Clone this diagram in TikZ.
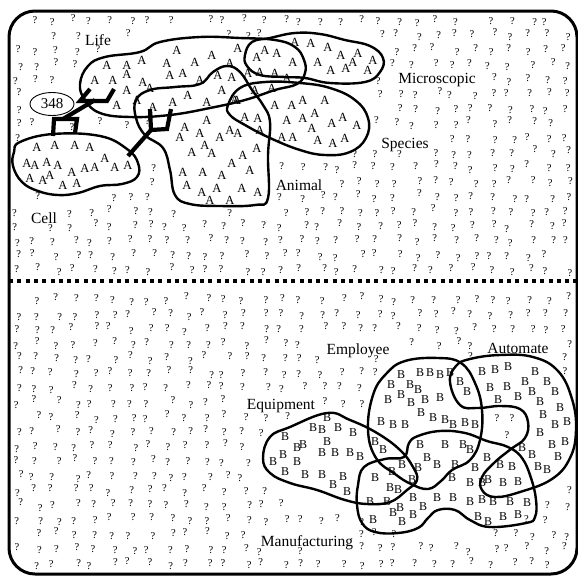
\documentclass[tikz,border=0pt]{standalone}
\usepackage{fontspec}
\setmainfont{Liberation Serif}
\usetikzlibrary{shapes.geometric}
\tikzset{
 blob/.style={line width=2.4pt, line join=round},
 treeline/.style={line width=4.2pt, line join=miter},
 lab/.style={font=\fontsize{15.5}{16}\selectfont, inner sep=0pt, anchor=base},
 la/.style={font=\fontsize{12.5}{13}\selectfont, inner sep=0pt},
 lb/.style={font=\fontsize{12}{13}\selectfont, inner sep=0pt},
 qm/.style={font=\fontsize{10.5}{11}\selectfont, inner sep=0pt},
}
\begin{document}
\begin{tikzpicture}[x=1pt,y=-1pt]
\useasboundingbox (0,0) rectangle (578,576);
\fill[white] (0,0) rectangle (578,576);
\draw[line width=3pt, rounded corners=26pt] (9,11) rectangle (577,574);
\coordinate (dl) at (9,281);
\coordinate (dr) at (577,281);
\draw[line width=4pt, dash pattern=on 4pt off 4.3pt] (dl) -- (dr);

% scattered question marks
\pgfmathsetseed{7}
\foreach \i in {0,...,29}{
 \foreach \j in {0,...,37}{
  \pgfmathsetmacro\px{17+\i*19+5*rand}
  \pgfmathsetmacro\py{20+\j*14.7+3*rand}
  \pgfmathtruncatemacro\bad{(\px<14)+(\px>571)+(\py<18)+(\py>567)
   +(abs(\py-281)<8)
   +(\px<32)*(\py<34)+(\px>554)*(\py<34)+(\px<32)*(\py>552)+(\px>554)*(\py>552)
   +(veclen((\px-77)/70,(\py-165)/37)<1)
   +(veclen((\px-192)/120,(\py-78)/46)<1)
   +(abs(\px-220)<56)*(abs(\py-150)<63)
   +(veclen((\px-298)/78,(\py-119)/44)<1)
   +(veclen((\px-314)/76,(\py-58)/32)<1)
   +(abs(\px-98)<18)*(abs(\py-40)<9)
   +(abs(\px-437)<44)*(abs(\py-78)<9)
   +(abs(\px-405)<29)*(abs(\py-143)<9)
   +(abs(\px-299)<28)*(abs(\py-185)<9)
   +(abs(\px-44)<18)*(abs(\py-218)<9)
   +(veclen((\px-52)/28,(\py-104)/16)<1)
   +(abs(\px-84)<34)*(abs(\py-111)<26)
   +(abs(\px-139)<14)*(abs(\py-143)<15)
   +(veclen((\px-340)/84,(\py-460)/52)<1)
   +(veclen((\px-425)/64,(\py-423)/72)<1)
   +(veclen((\px-514)/70,(\py-427)/78)<1)
   +(veclen((\px-447)/97,(\py-483)/57)<1)
   +(abs(\px-281)<40)*(abs(\py-404)<9)
   +(abs(\px-358)<38)*(abs(\py-349)<9)
   +(abs(\px-518)<36)*(abs(\py-348)<9)
   +(abs(\px-307)<52)*(abs(\py-541)<9)}
  \ifnum\bad=0 \node[qm] (q\i-\j) at (\px,\py) {?};\fi
 }
}
\foreach \p [count=\k] in {(72,127),(100,121),(497,418),(512,418),(507,435)}
  \node[qm] (qx\k) at \p {?};

% A blobs
\draw[blob] plot[smooth cycle, tension=0.7] coordinates {(20,142) (53,134) (100,136) (127,149) (138,163) (137,177) (122,184) (100,186) (78,193) (58,195) (38,191) (22,182) (13,166) (14,152)};
\draw[blob] plot[smooth cycle, tension=0.7] coordinates {(80,84) (88,66) (105,57) (140,52) (160,42) (200,37) (240,38) (275,40) (295,47) (304,60) (305,73) (297,84) (275,90) (245,100) (210,108) (170,115) (130,117) (100,113) (85,100)};
\draw[blob] plot[smooth cycle, tension=0.7] coordinates {(136,100) (150,90) (175,87) (200,84) (213,72) (227,66) (240,72) (252,90) (263,105) (270,122) (268,155) (268,198) (255,205) (220,206) (190,204) (175,195) (170,170) (163,148) (145,135) (136,118)};
\draw[blob] plot[smooth cycle, tension=0.7] coordinates {(228,105) (240,88) (265,82) (300,83) (330,88) (355,100) (368,118) (366,138) (350,152) (325,155) (300,150) (270,138) (245,125) (230,115)};
\draw[blob] plot[smooth cycle, tension=0.7] coordinates {(245,55) (252,42) (270,38) (295,33) (320,34) (345,40) (370,46) (383,58) (380,72) (365,82) (330,83) (305,78) (285,77) (260,75) (247,66)};

% B blobs
\draw[blob] plot[smooth cycle, tension=0.7] coordinates {(263,458) (270,437) (290,427) (327,413) (350,420) (377,433) (400,450) (413,467) (417,480) (407,490) (390,502) (367,504) (345,500) (317,490) (290,483) (270,473)};
\draw[blob] plot[smooth cycle, tension=0.7] coordinates {(368,430) (373,395) (386,374) (405,361) (438,358) (461,363) (475,383) (482,410) (480,440) (470,460) (452,470) (441,481) (428,489) (411,484) (395,474) (376,458)};
\draw[blob] plot[smooth cycle, tension=0.7] coordinates {(450,382) (456,366) (470,359) (500,355) (533,357) (558,371) (572,399) (576,430) (570,458) (552,479) (520,492) (495,497) (482,490) (482,477) (495,462) (511,449) (525,438) (528,422) (520,409) (500,406) (478,408) (460,405)};
\draw[blob] plot[smooth cycle, tension=0.7] coordinates {(358,485) (364,467) (385,459) (404,457) (409,443) (418,436) (440,431) (465,433) (487,441) (508,447) (522,458) (531,478) (536,500) (535,517) (526,523) (490,527) (470,520) (455,510) (438,510) (428,518) (418,528) (398,533) (375,532) (362,523) (357,505)};

% A letters
\foreach \p [count=\k] in {(107,65),(127,65),(142,60),(95,80),(113,80),(127,74),(143,82),(127,90),(150,88),(117,105),(137,100),(153,107),
 (177,50),(195,62),(212,55),(238,48),(167,63),(170,75),(183,73),(200,80),(218,75),(230,63),(232,77),(248,73),(222,90),(188,95),(207,102),(173,102),(235,100),
 (207,120),(185,127),(200,133),(180,137),(220,137),(230,130),(238,133),(205,145),(212,153),(192,152),(243,155),(257,148),(232,163),(250,170),(183,172),(203,172),(222,175),(187,185),(202,192),(217,188),(242,188),(258,192),(210,200),(230,200),
 (257,57),(265,50),(277,53),(260,72),(275,73),(287,78),(293,62),(295,42),(311,43),(328,47),(318,62),(331,70),(341,55),(346,68),(353,62),(358,53),(368,70),(373,60),
 (255,90),(272,88),(237,100),(245,117),(258,118),(260,130),(275,105),(292,105),(303,100),(325,100),(287,120),(303,118),(315,113),(312,128),(332,123),(343,117),(357,125),(282,137),(293,137),(318,140),(333,143),(345,138),
 (37,147),(55,145),(75,145),(90,147),(27,163),(35,165),(47,162),(58,165),(72,172),(85,168),(95,167),(105,158),(115,167),(128,165),(30,178),(43,180),(50,175),(63,185),(77,183)}
 \node[la] (a\k) at \p {A};

% B letters
\foreach \p [count=\k] in {(327,418),(313,428),(322,430),(338,428),(353,433),(285,437),(303,445),(297,448),(327,442),(283,455),(273,462),(297,462),(322,453),(335,453),(350,453),(360,457),(285,472),(305,475),(322,475),(343,477),(333,485),(347,492),
 (375,442),(383,450),(375,478),(390,488),(398,490),(392,472),(402,465),(412,480),(370,502),(387,502),(400,508),(413,498),(423,507),(373,520),(393,513),(402,522),(413,515),
 (401,375),(420,373),(430,373),(440,375),(450,373),(391,385),(410,385),(418,390),(401,395),(388,400),(411,403),(425,400),(440,398),(421,413),(433,418),(445,420),(453,425),(465,423),(475,425),(381,422),(393,425),(405,425),
 (460,382),(467,392),(482,372),(495,370),(508,367),(535,372),(490,388),(507,387),(525,382),(547,382),(518,397),(532,392),(555,392),(498,400),(540,402),(560,408),(543,415),(555,425),(567,422),(540,433),(552,445),(565,442),(522,448),(532,455),(558,457),(538,467),(547,470),
 (420,445),(445,445),(463,445),(470,450),(427,458),(437,465),(455,465),(487,458),(475,468),(500,465),(512,467),(418,468),(452,478),(470,483),(482,483),(488,480),(503,483),(518,482),(437,498),(453,498),(470,502),(482,500),(493,502),(510,502),(527,503),(478,517),(488,522),(503,517),(518,515)}
 \node[lb] (b\k) at \p {B};

% trees
\draw[treeline] (53,136) -- (54,119) -- (77,119) -- (75,133);
\draw[treeline] (63,119) -- (95,100);
\draw[treeline] (90,89) -- (80,101) -- (107,101) -- (114,89);
\draw[treeline] (150,109) -- (151,130) -- (167,129) -- (171,109);
\draw[treeline] (151,130) -- (128,156);

\node[draw, ellipse, line width=0.9pt, minimum width=44pt, minimum height=23pt, inner sep=0pt, font=\fontsize{15}{15}\selectfont] (n348) at (52,104) {348};

% labels
\node[lab] (life) at (98,45) {Life};
\node[lab] (micro) at (437,83) {Microscopic};
\node[lab] (species) at (405,148) {Species};
\node[lab] (animal) at (299,190) {Animal};
\node[lab] (cell) at (44,223) {Cell};
\node[lab] (equip) at (281,409) {Equipment};
\node[lab] (employee) at (358,354) {Employee};
\node[lab] (automate) at (518,353) {Automate};
\node[lab] (manuf) at (307,546) {Manufacturing};
\end{tikzpicture}
\end{document}
